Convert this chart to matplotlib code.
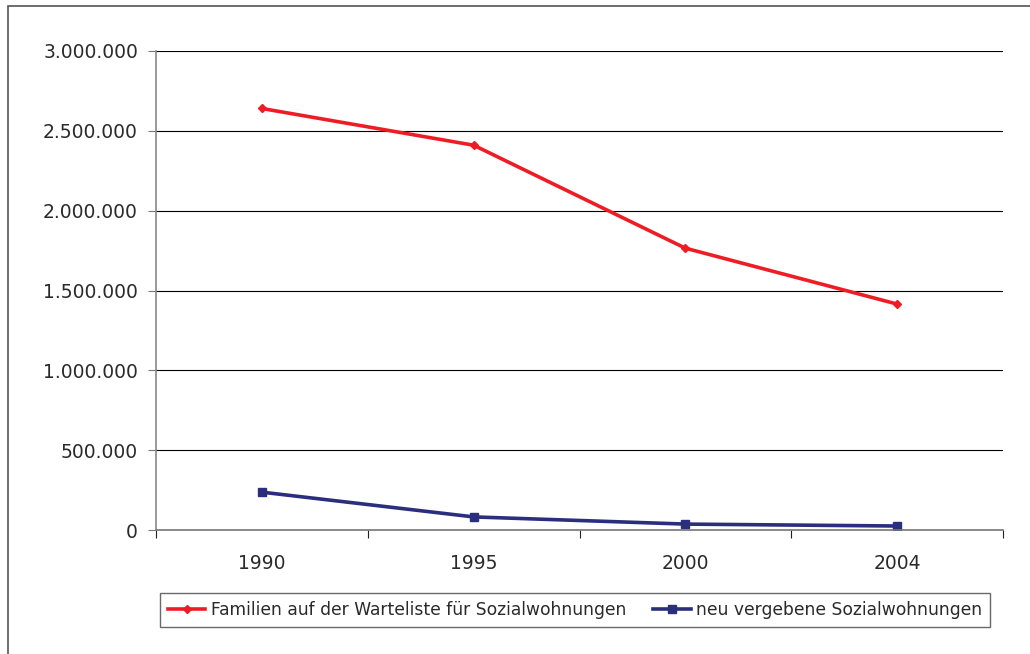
import matplotlib.pyplot as plt
from matplotlib.patches import Rectangle
from matplotlib.ticker import FuncFormatter

plt.rcParams['font.family'] = ['DejaVu Sans']

jahre = ['1990', '1995', '2000', '2004']
warteliste = [2640000, 2410000, 1765000, 1415000]
vergeben = [237000, 82000, 37000, 25000]

fig = plt.figure(figsize=(10.30, 6.54), dpi=100)
# aeusserer Rahmen
fig.patches.append(Rectangle((8/1030, -0.02), 1.1, 1 - 6/654 + 0.02, transform=fig.transFigure,
                             fill=False, edgecolor='#555555', linewidth=1.2))

ax = fig.add_axes([156/1030, 1 - 530/654, (1003 - 156)/1030, (530 - 51)/654])
x = range(len(jahre))
ax.plot(x, warteliste, color='#ee1d25', linewidth=2.6, marker='D', markersize=4,
        label='Familien auf der Warteliste für Sozialwohnungen')
ax.plot(x, vergeben, color='#2b2e7d', linewidth=2.6, marker='s', markersize=6,
        label='neu vergebene Sozialwohnungen')

ax.set_xlim(-0.5, 3.5)
ax.set_ylim(0, 3000000)
ax.set_yticks(range(0, 3000001, 500000))
ax.yaxis.set_major_formatter(FuncFormatter(lambda v, p: f'{int(v):,}'.replace(',', '.')))
ax.grid(axis='y', color='black', linewidth=0.8)
ax.set_axisbelow(True)

# Kategorien zwischen den Tickstrichen
ax.set_xticks([-0.5, 0.5, 1.5, 2.5, 3.5])
ax.set_xticklabels([])
ax.set_xticks(list(x), minor=True)
ax.set_xticklabels(jahre, minor=True)
ax.tick_params(axis='x', which='minor', length=0, pad=17, labelsize=13.5, colors='#2a2a2a')
ax.tick_params(axis='x', which='major', length=6, color='#222222')
ax.tick_params(axis='y', length=6, color='#777777', labelsize=13.5, labelcolor='#2a2a2a', pad=7)

for s in ['top', 'right']:
    ax.spines[s].set_visible(False)
ax.spines['left'].set_color('#888888')
ax.spines['left'].set_linewidth(1.2)
ax.spines['bottom'].set_color('#777777')
ax.spines['bottom'].set_linewidth(1.2)

leg = ax.legend(loc='center', bbox_to_anchor=(575/1030, 1 - 610/654), bbox_transform=fig.transFigure,
                ncol=2, frameon=True, fancybox=False, edgecolor='#444444', fontsize=12.3,
                handlelength=2.2, handletextpad=0.3, columnspacing=1.6, borderpad=0.45)
leg.get_frame().set_linewidth(1.0)
for t in leg.get_texts():
    t.set_color('#2a2a2a')

fig.savefig('out.png', dpi=100)
